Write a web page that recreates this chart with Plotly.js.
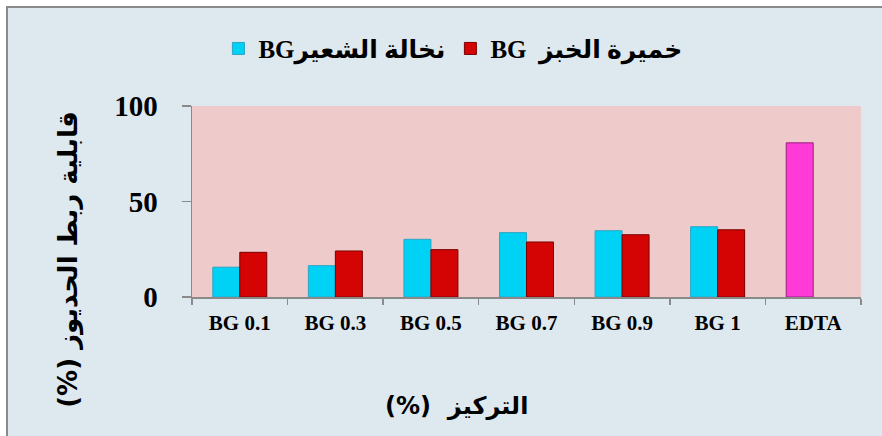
<!DOCTYPE html>
<html>
<head>
<meta charset="utf-8">
<script src="https://cdn.plot.ly/plotly-3.0.1.min.js"></script>
<style>
  html, body { margin:0; padding:0; background:#ffffff; }
  #bg { position:absolute; left:6px; top:6px; width:876px; height:430px;
        background:#DEE8EF; border-left:2px solid #8a8a8a; border-top:2px solid #8a8a8a; box-sizing:border-box; }
  #chart { position:absolute; left:0; top:0; width:882px; height:436px; }
</style>
</head>
<body>
<div id="bg"></div>
<div id="chart"></div>
<script>
// Data
const categories = ["BG 0.1", "BG 0.3", "BG 0.5", "BG 0.7", "BG 0.9", "BG 1", "EDTA"];
const barleyBran = [15.6, 16.4, 30.2, 33.7, 34.7, 36.8, 80.7];   // نخالة الشعير BG (EDTA shown in this slot)
const breadYeast = [23.4, 24.1, 24.8, 28.8, 32.6, 35.2, null];   // خميرة الخبز BG
const seriesNames = ["BGنخالة الشعير", "BG  خميرة الخبز"];
const yTicks = [0, 50, 100];

const cyan = "#00D2F5", red = "#D40404", pink = "#FF3AD6";
const barleyColors = categories.map(c => c === "EDTA" ? pink : cyan);
const barleyLines = categories.map(c => c === "EDTA" ? "#9A1C80" : "#2AA6C4");

const serif = "Liberation Serif, DejaVu Serif, DejaVu Sans, serif";

const traces = [
  { type: "bar", name: seriesNames[0], x: categories, y: barleyBran,
    marker: { color: barleyColors, line: { color: barleyLines, width: 1 } } },
  { type: "bar", name: seriesNames[1], x: categories, y: breadYeast,
    marker: { color: red, line: { color: "#7A0000", width: 1 } } }
];

const layout = {
  width: 882, height: 436,
  margin: { l: 192, r: 21, t: 106, b: 138.5, pad: 0 },
  paper_bgcolor: "rgba(0,0,0,0)",
  plot_bgcolor: "#EECACA",
  barmode: "group", bargap: 0.435, bargroupgap: 0,
  showlegend: true,
  legend: { orientation: "h", x: 0.39, xanchor: "center", y: 1.30, yanchor: "middle",
            font: { family: serif, size: 25, color: "#000", weight: "bold" },
            bgcolor: "rgba(0,0,0,0)", itemclick: false, traceorder: "normal", itemwidth: 30 },
  xaxis: { type: "category", showline: true, linecolor: "#8a8a8a", linewidth: 1.5,
           ticks: "outside", tickson: "boundaries", ticklen: 6, tickcolor: "#8a8a8a", tickwidth: 1.5,
           ticklabelstandoff: 6,
           tickfont: { family: serif, size: 21, color: "#000", weight: "bold" },
           showgrid: false, zeroline: false, fixedrange: true },
  yaxis: { range: [0, 100], tickvals: yTicks, ticktext: yTicks.map(String),
           showline: true, linecolor: "#8a8a8a", linewidth: 1.5,
           ticks: "outside", ticklen: 9, tickcolor: "#8a8a8a", tickwidth: 1.5,
           ticklabelstandoff: 18,
           tickfont: { family: serif, size: 29, color: "#000", weight: "bold" },
           showgrid: false, zeroline: false, fixedrange: true },
  annotations: [
    { text: "(%) قابلية ربط الحديوز", xref: "paper", yref: "paper", x: -0.185, y: 0.196,
      textangle: -90, showarrow: false, xanchor: "center", yanchor: "middle",
      font: { family: "DejaVu Sans, sans-serif", size: 26, color: "#000", weight: "bold" } },
    { text: "(%)  التركيز", xref: "paper", yref: "paper", x: 0.396, y: -0.57,
      showarrow: false, xanchor: "center", yanchor: "middle",
      font: { family: "DejaVu Sans, sans-serif", size: 24, color: "#000", weight: "bold" } }
  ]
};

Plotly.newPlot("chart", traces, layout, { displayModeBar: false, staticPlot: true });
</script>
</body>
</html>
